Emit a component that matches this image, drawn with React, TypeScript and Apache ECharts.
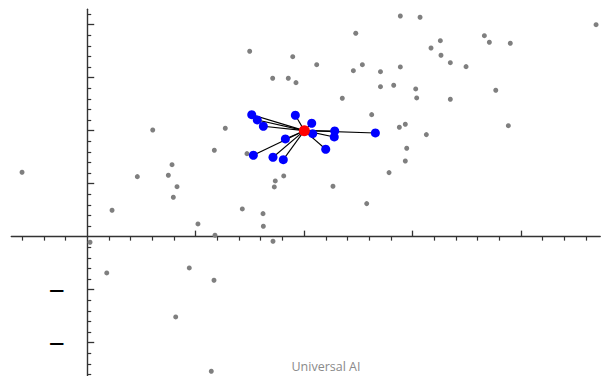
import React, { useEffect, useRef } from "react";
import * as echarts from "echarts";

// Gray background points [x, y]
const grayPoints: [number, number][] = [
  [-0.601, 1.215], [0.026, -0.106], [0.229, 0.498], [0.462, 1.132], [0.604, 2.013],
  [0.748, 1.158], [0.782, 1.358], [0.828, 0.943], [0.794, 0.743], [1.021, 0.24],
  [0.18, -0.685], [0.941, -0.591], [0.816, -1.515], [1.169, -0.823], [1.144, -2.54],
  [1.178, 0.026], [1.713, -0.087], [1.624, 0.196], [1.621, 0.434], [1.43, 0.523],
  [2.577, 0.623], [2.266, 0.951], [1.725, 0.938], [1.734, 1.051], [1.812, 1.145],
  [2.783, 1.208], [2.933, 1.428], [2.946, 1.668], [3.127, 1.925], [2.878, 2.064],
  [2.933, 2.121], [3.883, 2.094], [2.623, 2.302], [2.352, 2.611], [3.038, 2.617],
  [3.348, 2.592], [3.767, 2.762], [3.029, 2.787], [2.826, 2.857], [2.704, 2.83],
  [2.704, 3.113], [2.887, 3.202], [2.454, 3.132], [2.537, 3.245], [2.116, 3.245],
  [1.895, 3.396], [1.71, 2.989], [1.854, 2.989], [1.925, 2.906], [1.498, 3.498],
  [2.476, 3.838], [2.887, 4.164], [3.069, 4.14], [3.17, 3.56], [3.256, 3.698],
  [3.262, 3.423], [3.348, 3.283], [3.493, 3.208], [3.662, 3.792], [3.708, 3.668],
  [3.901, 3.649], [4.692, 4.0], [1.273, 2.045], [1.172, 1.63], [1.473, 1.566],
];

// Blue neighbour points
const bluePoints: [number, number][] = [
  [1.517, 2.302], [1.568, 2.202], [1.624, 2.083], [1.919, 2.291], [2.07, 2.14],
  [2.079, 1.943], [2.282, 1.994], [2.278, 1.881], [2.657, 1.957], [2.199, 1.649],
  [1.827, 1.843], [1.532, 1.536], [1.713, 1.498], [1.808, 1.453],
];

// Red centre point
const centerPoint: [number, number] = [2.002, 2.0];

// Axis ticks
const xMajorTicks = [1, 2, 3, 4];
const yMajorTicks = [-2, -1, 1, 2, 3, 4];
const yLabelTicks = [-1, -2];
const yLabelText = "—";
const caption = "Universal AI";

const minorTicks = (from: number, to: number) => {
  const out: number[] = [];
  for (let i = Math.round(from * 5); i <= Math.round(to * 5); i++) {
    if (i % 5 !== 0) out.push(Math.round(i * 2) / 10);
  }
  return out;
};
const xMinorTicks = minorTicks(-0.6, 4.6);
const yMinorTicks = minorTicks(-2.6, 4.2);

const X_MIN = -0.7;
const X_MAX = 4.73;
const Y_MIN = -2.63;
const Y_MAX = 4.29;

export default function App() {
  const ref = useRef<HTMLDivElement>(null);
  useEffect(() => {
    const chart = echarts.init(ref.current!, null, { renderer: "svg" });
    const axisColor = "#333";
    const baseX = {
      type: "value",
      min: X_MIN,
      max: X_MAX,
      splitLine: { show: false },
      axisLine: { onZero: true, onZeroAxisIndex: 0, lineStyle: { color: axisColor, width: 1.4 } },
    };
    const baseY = {
      type: "value",
      min: Y_MIN,
      max: Y_MAX,
      position: "left",
      splitLine: { show: false },
      axisLine: { onZero: true, onZeroAxisIndex: 0, lineStyle: { color: axisColor, width: 1.4 } },
    };
    chart.setOption({
      animation: false,
      backgroundColor: "#fff",
      grid: { left: 11.3, right: 1.8, top: 9.3, bottom: 0, outerBoundsMode: "none", containLabel: false },
      xAxis: [
        {
          ...baseX,
          axisTick: { show: true, inside: true, length: 6, customValues: xMajorTicks, lineStyle: { color: axisColor, width: 1.3 } },
          axisLabel: { show: false },
        },
        {
          ...baseX,
          axisLine: { ...baseX.axisLine, show: false },
          axisTick: { show: true, inside: true, length: 4, customValues: xMinorTicks, lineStyle: { color: axisColor, width: 1.2 } },
          axisLabel: { show: false },
        },
      ],
      yAxis: [
        {
          ...baseY,
          axisTick: { show: true, inside: true, length: 7, customValues: yMajorTicks, lineStyle: { color: axisColor, width: 1.3 } },
          axisLabel: { show: false },
        },
        {
          ...baseY,
          axisLine: { ...baseY.axisLine, show: false },
          axisTick: { show: true, inside: true, length: 4, customValues: yMinorTicks, lineStyle: { color: axisColor, width: 1.2 } },
          axisLabel: { show: false },
        },
      ],
      series: [
        {
          type: "scatter",
          xAxisIndex: 0,
          yAxisIndex: 0,
          data: grayPoints,
          symbolSize: 5,
          itemStyle: { color: "#7f7f7f", opacity: 1 },
          z: 2,
        },
        {
          type: "lines",
          coordinateSystem: "cartesian2d",
          xAxisIndex: 0,
          yAxisIndex: 0,
          data: bluePoints.map((p) => ({ coords: [centerPoint, p] })),
          lineStyle: { color: "#000", width: 1.1, opacity: 1 },
          z: 3,
        },
        {
          type: "scatter",
          xAxisIndex: 0,
          yAxisIndex: 0,
          data: bluePoints,
          symbolSize: 9,
          itemStyle: { color: "#0000ff", opacity: 1 },
          z: 4,
        },
        {
          type: "scatter",
          xAxisIndex: 0,
          yAxisIndex: 0,
          data: [centerPoint],
          symbolSize: 11,
          itemStyle: { color: "#ff0000", opacity: 1 },
          z: 5,
        },
      ],
    });

    // tick labels placed through the axes' own scales
    const x0 = chart.convertToPixel({ xAxisIndex: 0 }, 0) as number;
    const labelGraphics = yLabelTicks.map((v) => ({
      type: "text",
      x: x0 - 23,
      y: chart.convertToPixel({ yAxisIndex: 0 }, v) as number,
      style: {
        text: yLabelText,
        fill: "#000",
        font: 'bold 15px "DejaVu Sans"',
        textAlign: "right",
        textVerticalAlign: "middle",
      },
    }));
    chart.setOption({
      graphic: [
        ...labelGraphics,
        {
          type: "text",
          x: 326,
          y: 366,
          style: {
            text: caption,
            fill: "#8a8a8a",
            font: '12.5px "Open Sans"',
            textAlign: "center",
            textVerticalAlign: "middle",
          },
        },
      ],
    });
    return () => chart.dispose();
  }, []);
  return (
    <div
      ref={ref}
      style={{ position: "fixed", left: 0, top: 0, width: 602, height: 376, background: "#fff" }}
    />
  );
}
